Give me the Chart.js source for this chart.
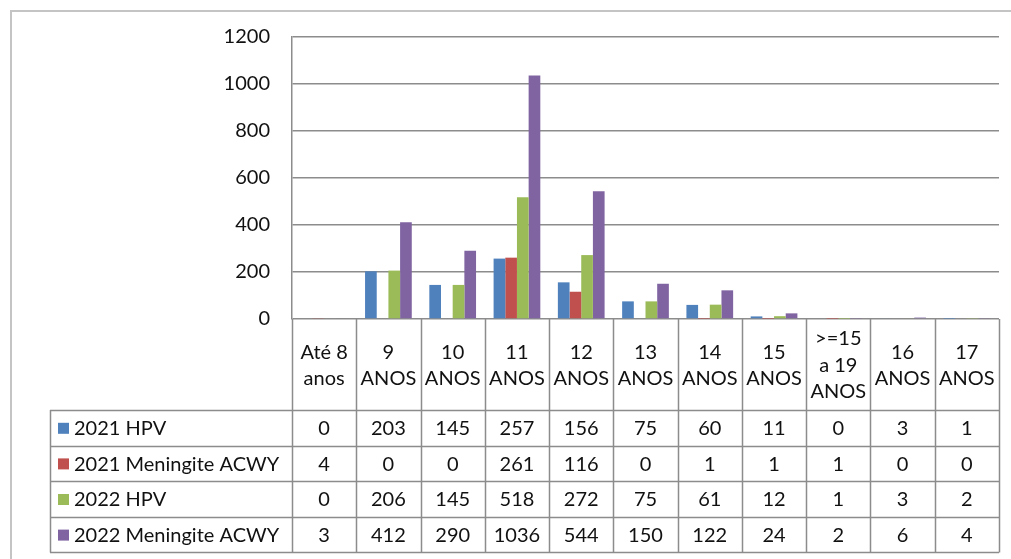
<!DOCTYPE html>
<html>
<head>
<meta charset="utf-8">
<script src="https://cdn.jsdelivr.net/npm/chart.js@4.4.1/dist/chart.umd.min.js"></script>
<style>
  html, body { margin: 0; padding: 0; background: #fff; }
  #wrap { width: 1011px; height: 559px; position: relative; }
</style>
</head>
<body>
<div id="wrap"><canvas id="c"></canvas></div>
<script>
const categories = [
  ['Até 8', 'anos'], ['9', 'ANOS'], ['10', 'ANOS'], ['11', 'ANOS'], ['12', 'ANOS'],
  ['13', 'ANOS'], ['14', 'ANOS'], ['15', 'ANOS'], ['>=15', 'a 19', 'ANOS'],
  ['16', 'ANOS'], ['17', 'ANOS']
];
const seriesNames = ['2021 HPV', '2021 Meningite ACWY', '2022 HPV', '2022 Meningite ACWY'];
const hpv2021 = [0, 203, 145, 257, 156, 75, 60, 11, 0, 3, 1];
const men2021 = [4, 0, 0, 261, 116, 0, 1, 1, 1, 0, 0];
const hpv2022 = [0, 206, 145, 518, 272, 75, 61, 12, 1, 3, 2];
const men2022 = [3, 412, 290, 1036, 544, 150, 122, 24, 2, 6, 4];
const seriesColors = ['#4f81bd', '#c0504d', '#9bbb59', '#8064a2'];

const FONT = 'Lato, sans-serif';
const FSIZE = 20;
const gridColor = '#8c8c8c';
const textColor = '#111';

// tabela de dados por baixo do gráfico
const dataTable = {
  id: 'dataTable',
  beforeDraw(chart) {
    const ctx = chart.ctx;
    ctx.save();
    ctx.strokeStyle = '#c4c4c4';
    ctx.lineWidth = 2;
    ctx.beginPath();
    ctx.moveTo(11, 600);
    ctx.lineTo(11, 11);
    ctx.lineTo(1020, 11);
    ctx.stroke();
    ctx.restore();
  },
  afterDraw(chart) {
    const ctx = chart.ctx;
    const area = chart.chartArea;
    const xs = chart.scales.x;
    const n = categories.length;
    const w = (area.right - area.left) / n;
    const rowTop = 410, rowH = 35.6, legLeft = 50;
    const tableBottom = rowTop + rowH * 4;

    ctx.save();
    ctx.strokeStyle = gridColor;
    ctx.lineWidth = 1.5;
    ctx.beginPath();
    for (let i = 0; i <= n; i++) {
      const x = Math.round(area.left + i * w) + 0.5;
      ctx.moveTo(x, area.bottom);
      ctx.lineTo(x, tableBottom);
    }
    for (let r = 0; r <= 4; r++) {
      const y = Math.round(rowTop + r * rowH) + 0.5;
      ctx.moveTo(legLeft, y);
      ctx.lineTo(area.right, y);
    }
    ctx.moveTo(legLeft + 0.5, rowTop);
    ctx.lineTo(legLeft + 0.5, tableBottom);
    ctx.stroke();

    ctx.font = FSIZE + 'px ' + FONT;
    ctx.textBaseline = 'middle';
    chart.data.datasets.forEach((ds, r) => {
      const cy = rowTop + r * rowH + rowH / 2 + 1;
      ctx.fillStyle = ds.backgroundColor;
      ctx.fillRect(legLeft + 8, cy - 6, 11, 11);
      ctx.fillStyle = textColor;
      ctx.textAlign = 'left';
      ctx.fillText(ds.label, legLeft + 24, cy);
      ctx.textAlign = 'center';
      ds.data.forEach((v, i) => {
        ctx.fillText(String(v), xs.getPixelForValue(i), cy);
      });
    });
    ctx.restore();
  }
};

const datasets = [hpv2021, men2021, hpv2022, men2022].map((d, i) => ({
  label: seriesNames[i],
  data: d,
  backgroundColor: seriesColors[i],
  borderWidth: 0,
  categoryPercentage: 0.727,
  barPercentage: 1
}));

new Chart(document.getElementById('c'), {
  type: 'bar',
  data: { labels: categories, datasets: datasets },
  options: {
    responsive: true,
    maintainAspectRatio: false,
    devicePixelRatio: 1,
    animation: false,
    layout: { padding: { top: 37, right: 12, left: 0, bottom: 0 } },
    plugins: {
      legend: { display: false },
      tooltip: { enabled: false }
    },
    scales: {
      x: {
        afterFit: s => { s.height = 240; },
        grid: { display: false },
        border: { display: false },
        ticks: {
          autoSkip: false,
          maxRotation: 0,
          minRotation: 0,
          crossAlign: 'center',
          padding: 12,
          color: textColor,
          font: { family: FONT, size: FSIZE, lineHeight: 1.32 }
        }
      },
      y: {
        min: 0,
        max: 1200,
        afterFit: s => { s.width = 292; },
        grid: { color: gridColor, lineWidth: 1.5, drawTicks: false },
        border: { color: gridColor, width: 1.5 },
        ticks: {
          stepSize: 200,
          padding: 22,
          color: textColor,
          font: { family: FONT, size: FSIZE },
          callback: v => String(v)
        }
      }
    }
  },
  plugins: [dataTable]
});
</script>
</body>
</html>
